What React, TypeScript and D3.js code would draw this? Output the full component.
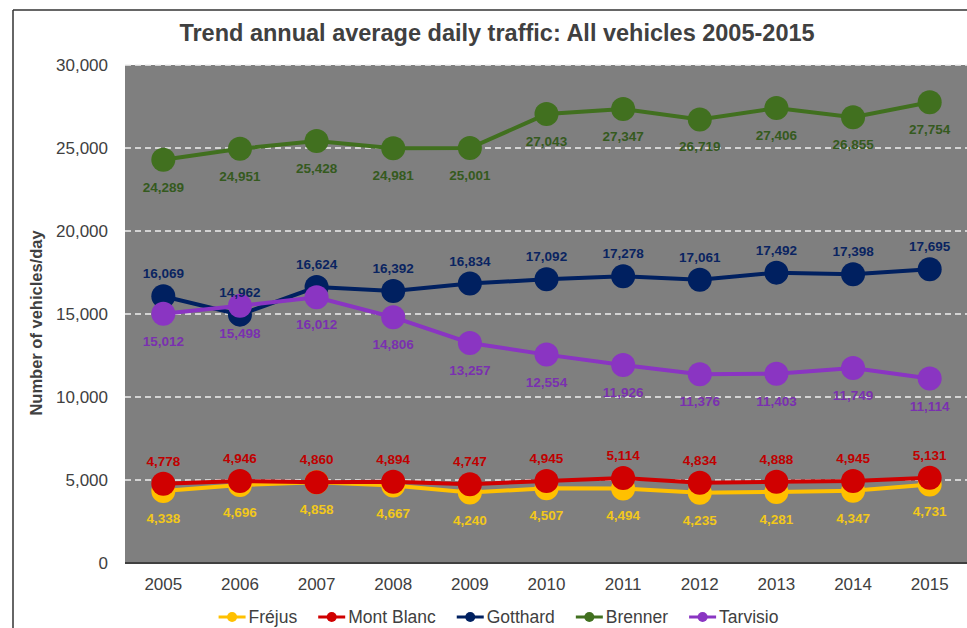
import React from "react";
import * as d3 from "d3";

const years = ["2005", "2006", "2007", "2008", "2009", "2010", "2011", "2012", "2013", "2014", "2015"];
const frejus = [4338, 4696, 4858, 4667, 4240, 4507, 4494, 4235, 4281, 4347, 4731];
const montBlanc = [4778, 4946, 4860, 4894, 4747, 4945, 5114, 4834, 4888, 4945, 5131];
const gotthard = [16069, 14962, 16624, 16392, 16834, 17092, 17278, 17061, 17492, 17398, 17695];
const brenner = [24289, 24951, 25428, 24981, 25001, 27043, 27347, 26719, 27406, 26855, 27754];
const tarvisio = [15012, 15498, 16012, 14806, 13257, 12554, 11926, 11376, 11403, 11749, 11114];
const yTicks = [0, 5000, 10000, 15000, 20000, 25000, 30000];

const seriesNames = ["Fréjus", "Mont Blanc", "Gotthard", "Brenner", "Tarvisio"];
const seriesValues = [frejus, montBlanc, gotthard, brenner, tarvisio];
const seriesColors = ["#FFC000", "#D00000", "#002060", "#41701F", "#8A35C2"];
const labelColors = ["#F2C81A", "#C00000", "#0A2461", "#355A1E", "#7A30B0"];
const labelBelow = [true, false, false, true, true];

const W = 967;
const H = 628;
const plot = { left: 125, right: 968, top: 65, bottom: 563 };
const FONT = "'Liberation Sans', Arial, sans-serif";
const LEGEND_FS = 17.5;

function measure(text: string, size: number): number {
  const c = document.createElement("canvas").getContext("2d");
  if (!c) return text.length * size * 0.55;
  c.font = `${size}px ${FONT}`;
  return c.measureText(text).width;
}

export default function App() {
  const x = d3.scaleBand<string>().domain(years).range([plot.left, plot.right]).paddingInner(0).paddingOuter(0);
  const xc = (yr: string) => (x(yr) as number) + x.bandwidth() / 2;
  const y = d3.scaleLinear().domain([0, 30000]).range([plot.bottom, plot.top]);
  const fmt = d3.format(",");
  const line = d3
    .line<number>()
    .x((_, i) => xc(years[i]))
    .y((v) => y(v));

  const markerW = 27;
  const gap = 20;
  const widths = seriesNames.map((n) => markerW + 4 + measure(n, LEGEND_FS));
  const total = d3.sum(widths) + gap * (widths.length - 1);
  let cur = 499 - total / 2;
  const legendX = widths.map((w) => {
    const p = cur;
    cur += w + gap;
    return p;
  });

  return (
    <svg
      width={W}
      height={H}
      style={{ position: "absolute", left: 0, top: 0, background: "#fff" }}
      fontFamily={FONT}
    >
      {/* frame */}
      <line x1={13} y1={10} x2={W} y2={10} stroke="#333" strokeWidth={1.5} />
      <line x1={13} y1={10} x2={13} y2={H} stroke="#333" strokeWidth={1.5} />

      {/* title */}
      <text x={497} y={41} textAnchor="middle" fontSize={23.5} fontWeight="bold" fill="#404040">
        Trend annual average daily traffic: All vehicles 2005-2015
      </text>

      {/* plot background */}
      <rect x={plot.left} y={plot.top} width={plot.right - plot.left} height={plot.bottom - plot.top} fill="#7F7F7F" />

      {/* gridlines */}
      {yTicks
        .filter((t) => t > 0)
        .map((t) => (
          <line
            key={t}
            x1={plot.left}
            x2={plot.right}
            y1={y(t)}
            y2={y(t)}
            stroke="#F0F0F0"
            strokeWidth={1.5}
            strokeDasharray="6 4"
          />
        ))}
      <line x1={plot.left} x2={plot.right} y1={plot.bottom} y2={plot.bottom} stroke="#404040" strokeWidth={2} />

      {/* y ticks */}
      {yTicks.map((t) => (
        <text key={t} x={108} y={y(t) + 6} textAnchor="end" fontSize={17} fill="#404040">
          {fmt(t)}
        </text>
      ))}
      <text
        transform={`translate(42,323) rotate(-90)`}
        textAnchor="middle"
        fontSize={16.5}
        fontWeight="bold"
        fill="#404040"
      >
        Number of vehicles/day
      </text>

      {/* x ticks */}
      {years.map((yr) => (
        <text key={yr} x={xc(yr)} y={590} textAnchor="middle" fontSize={17} fill="#404040">
          {yr}
        </text>
      ))}

      {/* series */}
      {seriesValues.map((vals, si) => (
        <g key={si}>
          <path d={line(vals) as string} fill="none" stroke={seriesColors[si]} strokeWidth={4} />
          {vals.map((v, i) => (
            <circle key={i} cx={xc(years[i])} cy={y(v)} r={12} fill={seriesColors[si]} />
          ))}
        </g>
      ))}

      {/* labels */}
      {seriesValues.map((vals, si) =>
        vals.map((v, i) => (
          <text
            key={`${si}-${i}`}
            x={xc(years[i])}
            y={y(v) + (labelBelow[si] ? 27 : -23) + 5}
            textAnchor="middle"
            fontSize={13.5}
            fontWeight="bold"
            fill={labelColors[si]}
          >
            {fmt(v)}
          </text>
        ))
      )}

      {/* legend */}
      {seriesNames.map((name, si) => (
        <g key={name} transform={`translate(${legendX[si]},617)`}>
          <line x1={0} x2={markerW} y1={0} y2={0} stroke={seriesColors[si]} strokeWidth={3} />
          <circle cx={markerW / 2} cy={0} r={5} fill={seriesColors[si]} />
          <text x={markerW + 3} y={6} fontSize={LEGEND_FS} fill="#404040">
            {name}
          </text>
        </g>
      ))}
    </svg>
  );
}
